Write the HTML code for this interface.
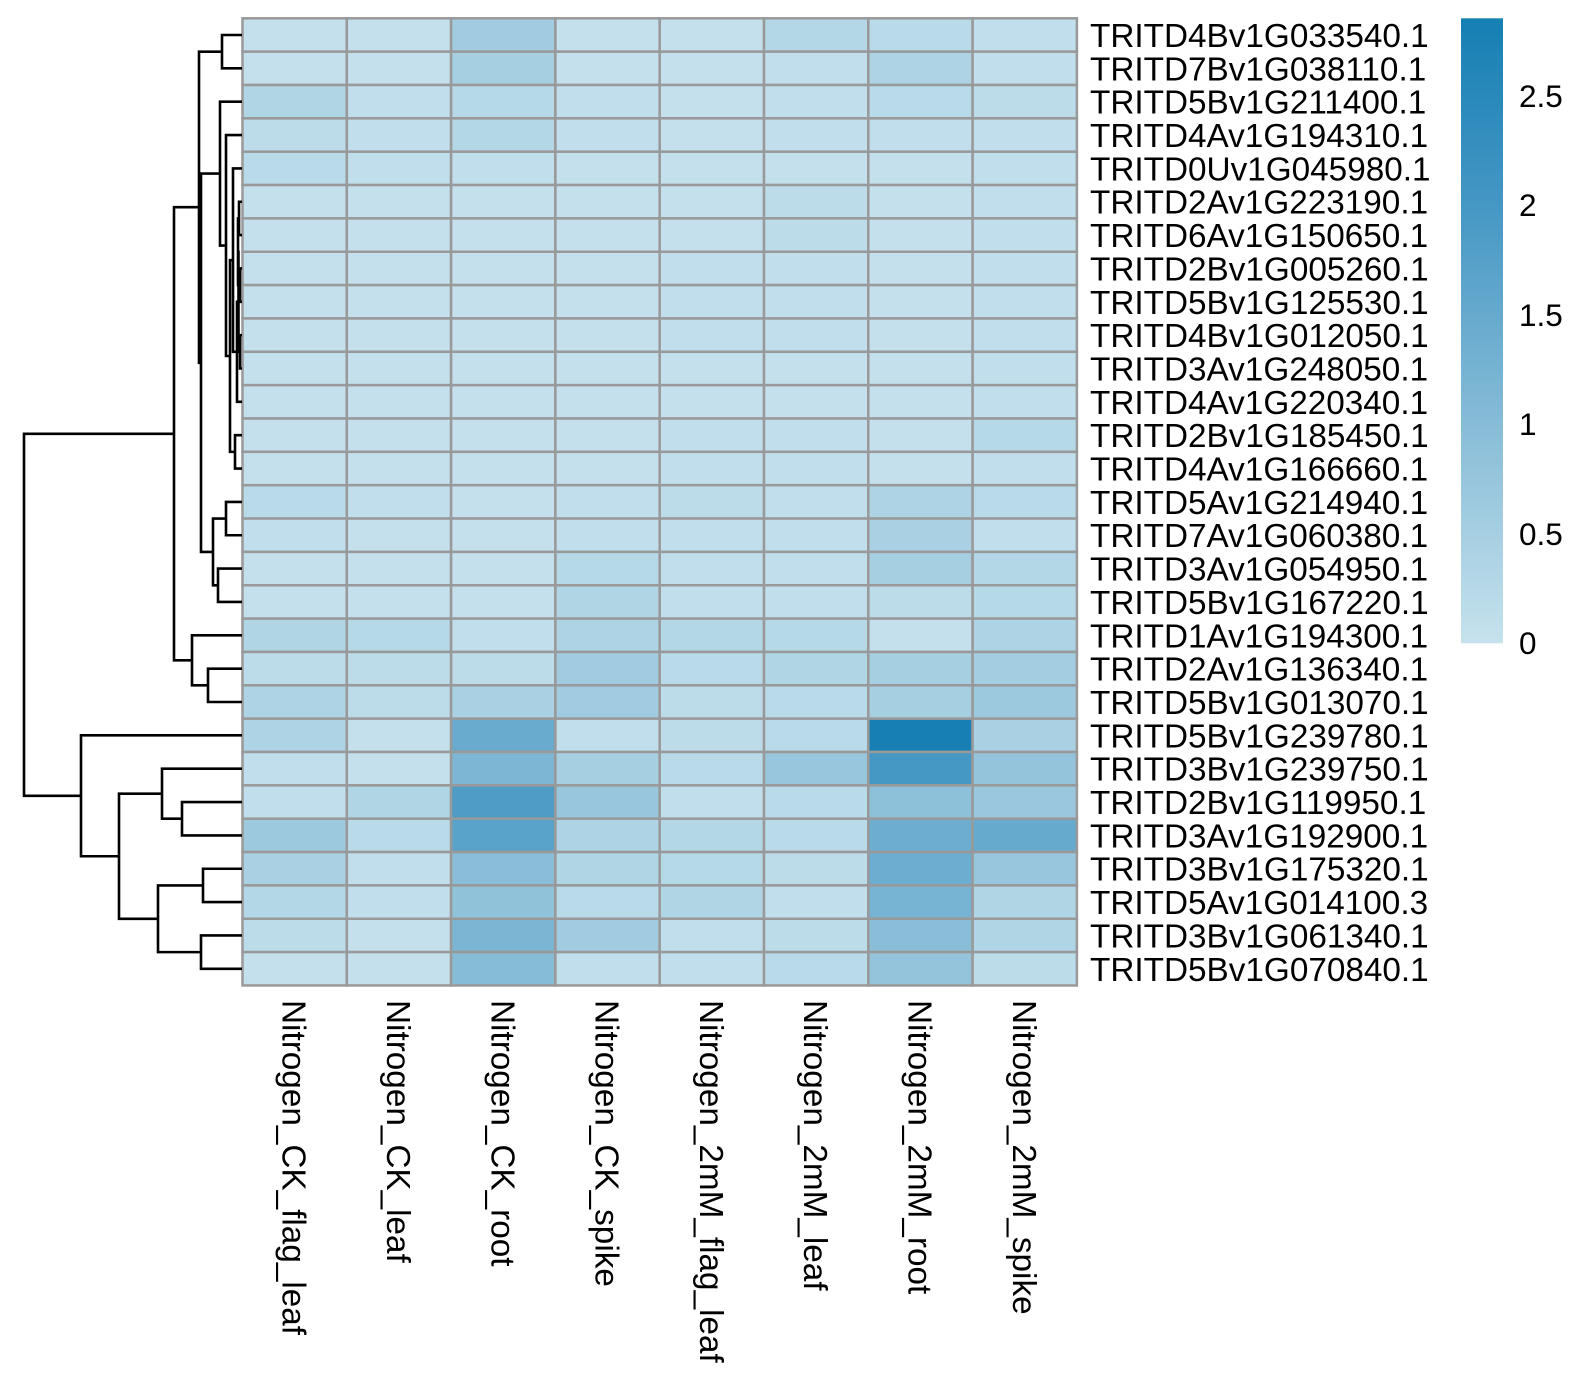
<!DOCTYPE html>
<html><head><meta charset="utf-8"><style>
html,body{margin:0;padding:0;background:#fff;}
svg{display:block;}
text{font-family:"Liberation Sans",Arial,sans-serif;fill:#000;}
</style></head><body>
<svg id="s" width="1588" height="1392" xmlns="http://www.w3.org/2000/svg">
<defs><linearGradient id="cb" x1="0" y1="1" x2="0" y2="0">
<stop offset="0" stop-color="rgb(198,226,237)"/>
<stop offset="0.35" stop-color="rgb(135,188,215)"/>
<stop offset="0.70" stop-color="rgb(69,151,196)"/>
<stop offset="1" stop-color="rgb(22,127,179)"/>
</linearGradient></defs>
<g id="cells"></g>
<g id="dend" fill="none" stroke="#000" stroke-width="2.6"></g>
<g id="labs" font-size="33.3"></g>
<rect x="1461" y="18.3" width="42" height="625" fill="url(#cb)"/>
<g font-size="31.5">
<text x="1519" y="654">0</text>
<text x="1519" y="545">0.5</text>
<text x="1519" y="435">1</text>
<text x="1519" y="326">1.5</text>
<text x="1519" y="216">2</text>
<text x="1519" y="107">2.5</text>
</g>
</svg>
<script>
const V=[
[.05,.05,.6,.05,.05,.3,.2,.1],[.05,.05,.5,.05,.05,.1,.4,.1],[.35,.1,.25,.1,.05,.1,.2,.15],[.15,.1,.3,.1,.05,.1,.1,.1],
[.2,.1,.1,.05,.05,.05,.05,.1],[.05,.05,.05,.05,.05,.15,.05,.1],[.05,.05,.05,.05,.05,.15,.05,.1],[.05,.05,.05,.05,.1,.1,.05,.1],
[.05,.05,.05,.05,.1,.1,.05,.1],[.05,.05,.05,.05,.1,.1,.05,.1],[.05,.05,.05,.05,.05,.05,.05,.1],[.05,.05,.05,.05,.05,.05,.05,.1],
[.05,.05,.05,.05,.1,.1,.05,.25],[.05,.05,.05,.05,.1,.1,.05,.1],[.2,.1,.05,.1,.15,.1,.4,.2],[.1,.05,.05,.1,.1,.1,.45,.1],
[.05,.05,.05,.25,.1,.1,.5,.3],[.05,.05,.05,.35,.1,.1,.15,.25],[.35,.25,.1,.4,.3,.25,.05,.4],[.15,.15,.15,.6,.2,.35,.5,.55],
[.4,.15,.45,.6,.15,.2,.5,.65],[.4,.05,1.45,.1,.15,.2,2.85,.45],[.1,.05,1.15,.5,.2,.75,2.0,.8],[.1,.35,1.85,.75,.1,.2,.9,.7],
[.65,.2,1.7,.4,.3,.2,1.4,1.5],[.45,.1,.95,.35,.25,.15,1.4,.75],[.3,.1,.85,.2,.35,.1,1.25,.35],[.15,.05,1.2,.6,.1,.15,.95,.35],
[.05,.05,1.0,.1,.1,.2,.8,.15]];
const R=["TRITD4Bv1G033540.1","TRITD7Bv1G038110.1","TRITD5Bv1G211400.1","TRITD4Av1G194310.1","TRITD0Uv1G045980.1","TRITD2Av1G223190.1","TRITD6Av1G150650.1","TRITD2Bv1G005260.1","TRITD5Bv1G125530.1","TRITD4Bv1G012050.1","TRITD3Av1G248050.1","TRITD4Av1G220340.1","TRITD2Bv1G185450.1","TRITD4Av1G166660.1","TRITD5Av1G214940.1","TRITD7Av1G060380.1","TRITD3Av1G054950.1","TRITD5Bv1G167220.1","TRITD1Av1G194300.1","TRITD2Av1G136340.1","TRITD5Bv1G013070.1","TRITD5Bv1G239780.1","TRITD3Bv1G239750.1","TRITD2Bv1G119950.1","TRITD3Av1G192900.1","TRITD3Bv1G175320.1","TRITD5Av1G014100.3","TRITD3Bv1G061340.1","TRITD5Bv1G070840.1"];
const C=["Nitrogen_CK_flag_leaf","Nitrogen_CK_leaf","Nitrogen_CK_root","Nitrogen_CK_spike","Nitrogen_2mM_flag_leaf","Nitrogen_2mM_leaf","Nitrogen_2mM_root","Nitrogen_2mM_spike"];
const S=[[0,198,226,237],[1,135,188,215],[2,69,151,196],[2.86,22,127,179]];
function col(v){for(let i=0;i<3;i++){if(v<=S[i+1][0]){const t=(v-S[i][0])/(S[i+1][0]-S[i][0]);return `rgb(${[1,2,3].map(k=>Math.round(S[i][k]+t*(S[i+1][k]-S[i][k]))).join(',')})`;}}return 'rgb(22,127,179)';}
const x0=242.5,y0=18.3,cw=104.3,rh=33.35;let h='';
for(let r=0;r<29;r++)for(let c=0;c<8;c++)h+=`<rect x="${x0+c*cw}" y="${y0+r*rh}" width="${cw}" height="${rh}" fill="${col(V[r][c])}" stroke="#999" stroke-width="2.5"/>`;
document.getElementById('cells').innerHTML=h;
let l='';R.forEach((t,i)=>l+=`<text x="1090" y="${y0+rh*(i+0.5)+12}">${t}</text>`);
C.forEach((t,i)=>{const cx=x0+cw*(i+0.5)-12;l+=`<text transform="translate(${cx},1000) rotate(90)">${t}</text>`;});
document.getElementById('labs').innerHTML=l;
const Y=i=>35.0+33.35*i;let N={};
function n(name,x,a,b){const A=typeof a=='number'?[242,Y(a)]:N[a],B=typeof b=='number'?[242,Y(b)]:N[b];N[name]=[x,(A[1]+B[1])/2];return `<path d="M${A[0]} ${A[1]}H${x}V${B[1]}H${B[0]}"/>`;}
let d='';
d+=n('p01',222,0,1);d+=n('n56',239,5,6);d+=n('n78',240,7,8);d+=n('n910',240,9,10);
d+=n('na',238,'n56','n78');d+=n('nb',238.5,'na','n910');d+=n('nc',237,'nb',11);d+=n('s',233,4,'nc');
d+=n('p1213',235,12,13);d+=n('z3',230,'s','p1213');d+=n('z2',226,3,'z3');d+=n('z',220,2,'z2');
d+=n('p1415',226,14,15);d+=n('p1617',218,16,17);d+=n('w',213,'p1415','p1617');d+=n('y',201,'z','w');
d+=n('a1',199,'p01','y');d+=n('p1920',208,19,20);d+=n('a2',192,18,'p1920');d+=n('a',174,'a1','a2');
d+=n('p2324',182,23,24);d+=n('b3',162,22,'p2324');d+=n('p2526',203,25,26);d+=n('p2728',201,27,28);
d+=n('b4',158,'p2526','p2728');d+=n('b2',119,'b3','b4');d+=n('b',81,21,'b2');d+=n('root',24,'a','b');
document.getElementById('dend').innerHTML=d;
</script>
</body></html>
